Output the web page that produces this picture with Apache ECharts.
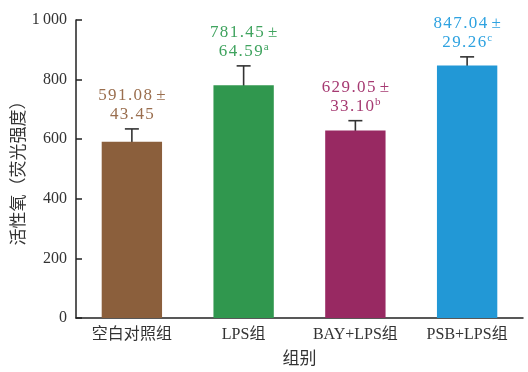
<!DOCTYPE html>
<html><head><meta charset="utf-8">
<script src="https://cdn.jsdelivr.net/npm/echarts@6/dist/echarts.min.js"></script>
<style>html,body{margin:0;padding:0;background:#fff}#c{width:528px;height:372px}</style>
</head><body><div id="c"></div>
<script>
const categories = ['空白对照组', 'LPS组', 'BAY+LPS组', 'PSB+LPS组'];
const means = [591.08, 781.45, 629.05, 847.04];
const errors = [43.45, 64.59, 33.10, 29.26];
const sigLetters = ['', 'a', 'b', 'c'];
const barColors = ['#8B5F3C', '#30974E', '#982962', '#2298D6'];
const labelColors = ['#9A6E4E', '#3FA35E', '#A63A72', '#2EA2E0'];
const yTicks = [0, 200, 400, 600, 800, 1000];

const FONT = '"Liberation Serif", "DejaVu Serif", "Noto Sans CJK SC", serif';
const chart = echarts.init(document.getElementById('c'));
chart.setOption({
  animation: false,
  grid: { left: 76, right: 5, top: 20, bottom: 54, outerBoundsMode: 'none', containLabel: false },
  xAxis: {
    type: 'category', data: categories,
    name: '组别', nameLocation: 'middle', nameGap: 33,
    nameTextStyle: { fontFamily: FONT, fontSize: 17, color: '#333' },
    axisLine: { lineStyle: { color: '#222', width: 1.5 } },
    axisTick: { inside: true, length: 6, lineStyle: { color: '#222', width: 1.5 } },
    axisLabel: { fontFamily: FONT, fontSize: 16, color: '#333', margin: 9 }
  },
  yAxis: {
    type: 'value', min: yTicks[0], max: yTicks[yTicks.length - 1], interval: 200,
    name: '活性氧（荧光强度）', nameLocation: 'middle', nameGap: 48, nameRotate: 90,
    nameMoveOverlap: false,
    nameTextStyle: { fontFamily: FONT, fontSize: 17, color: '#333' },
    axisLine: { show: true, lineStyle: { color: '#222', width: 1.5 } },
    axisTick: { show: true, inside: true, length: 6, lineStyle: { color: '#222', width: 1.5 } },
    axisLabel: {
      fontFamily: FONT, fontSize: 16, color: '#333', margin: 9,
      formatter: v => v >= 1000 ? Math.floor(v / 1000) + '\u2009' + String(v % 1000).padStart(3, '0') : String(v)
    },
    splitLine: { show: false }
  },
  series: [
    {
      type: 'bar', barWidth: '54%',
      data: means.map((v, i) => ({ value: v, itemStyle: { color: barColors[i] } }))
    },
    {
      type: 'custom',
      data: means.map((v, i) => [i, v, errors[i]]),
      renderItem: function (params, api) {
        const i = api.value(0), m = api.value(1), e = api.value(2);
        const top = api.coord([i, m + e]);
        const bot = api.coord([i, m - e]);
        const x = top[0], hw = 7;
        const style = { stroke: '#333', lineWidth: 1.6 };
        const letter = sigLetters[i];
        const l1 = means[i].toFixed(2).split('').join('\u200A') + ' ±';
        const l2 = errors[i].toFixed(2).split('').join('\u200A');
        return {
          type: 'group',
          children: [
            { type: 'line', shape: { x1: x, y1: top[1], x2: x, y2: bot[1] }, style },
            { type: 'line', shape: { x1: x - hw, y1: top[1], x2: x + hw, y2: top[1] }, style },
            { type: 'line', shape: { x1: x - hw, y1: bot[1], x2: x + hw, y2: bot[1] }, style },
            {
              type: 'text', x: x, y: top[1] - 5,
              style: {
                text: '{v|' + l1 + '}\n{v|' + l2 + '}' + (letter ? '{s|' + letter + '}' : ''),
                align: 'center', verticalAlign: 'bottom',
                fill: labelColors[i],
                rich: {
                  v: { fontFamily: FONT, fontSize: 17, fill: labelColors[i], lineHeight: 19 },
                  s: { fontFamily: FONT, fontSize: 11, fill: labelColors[i], verticalAlign: 'top', lineHeight: 19, padding: [0, 0, 10, 1] }
                }
              }
            }
          ]
        };
      }
    }
  ]
});
</script></body></html>
